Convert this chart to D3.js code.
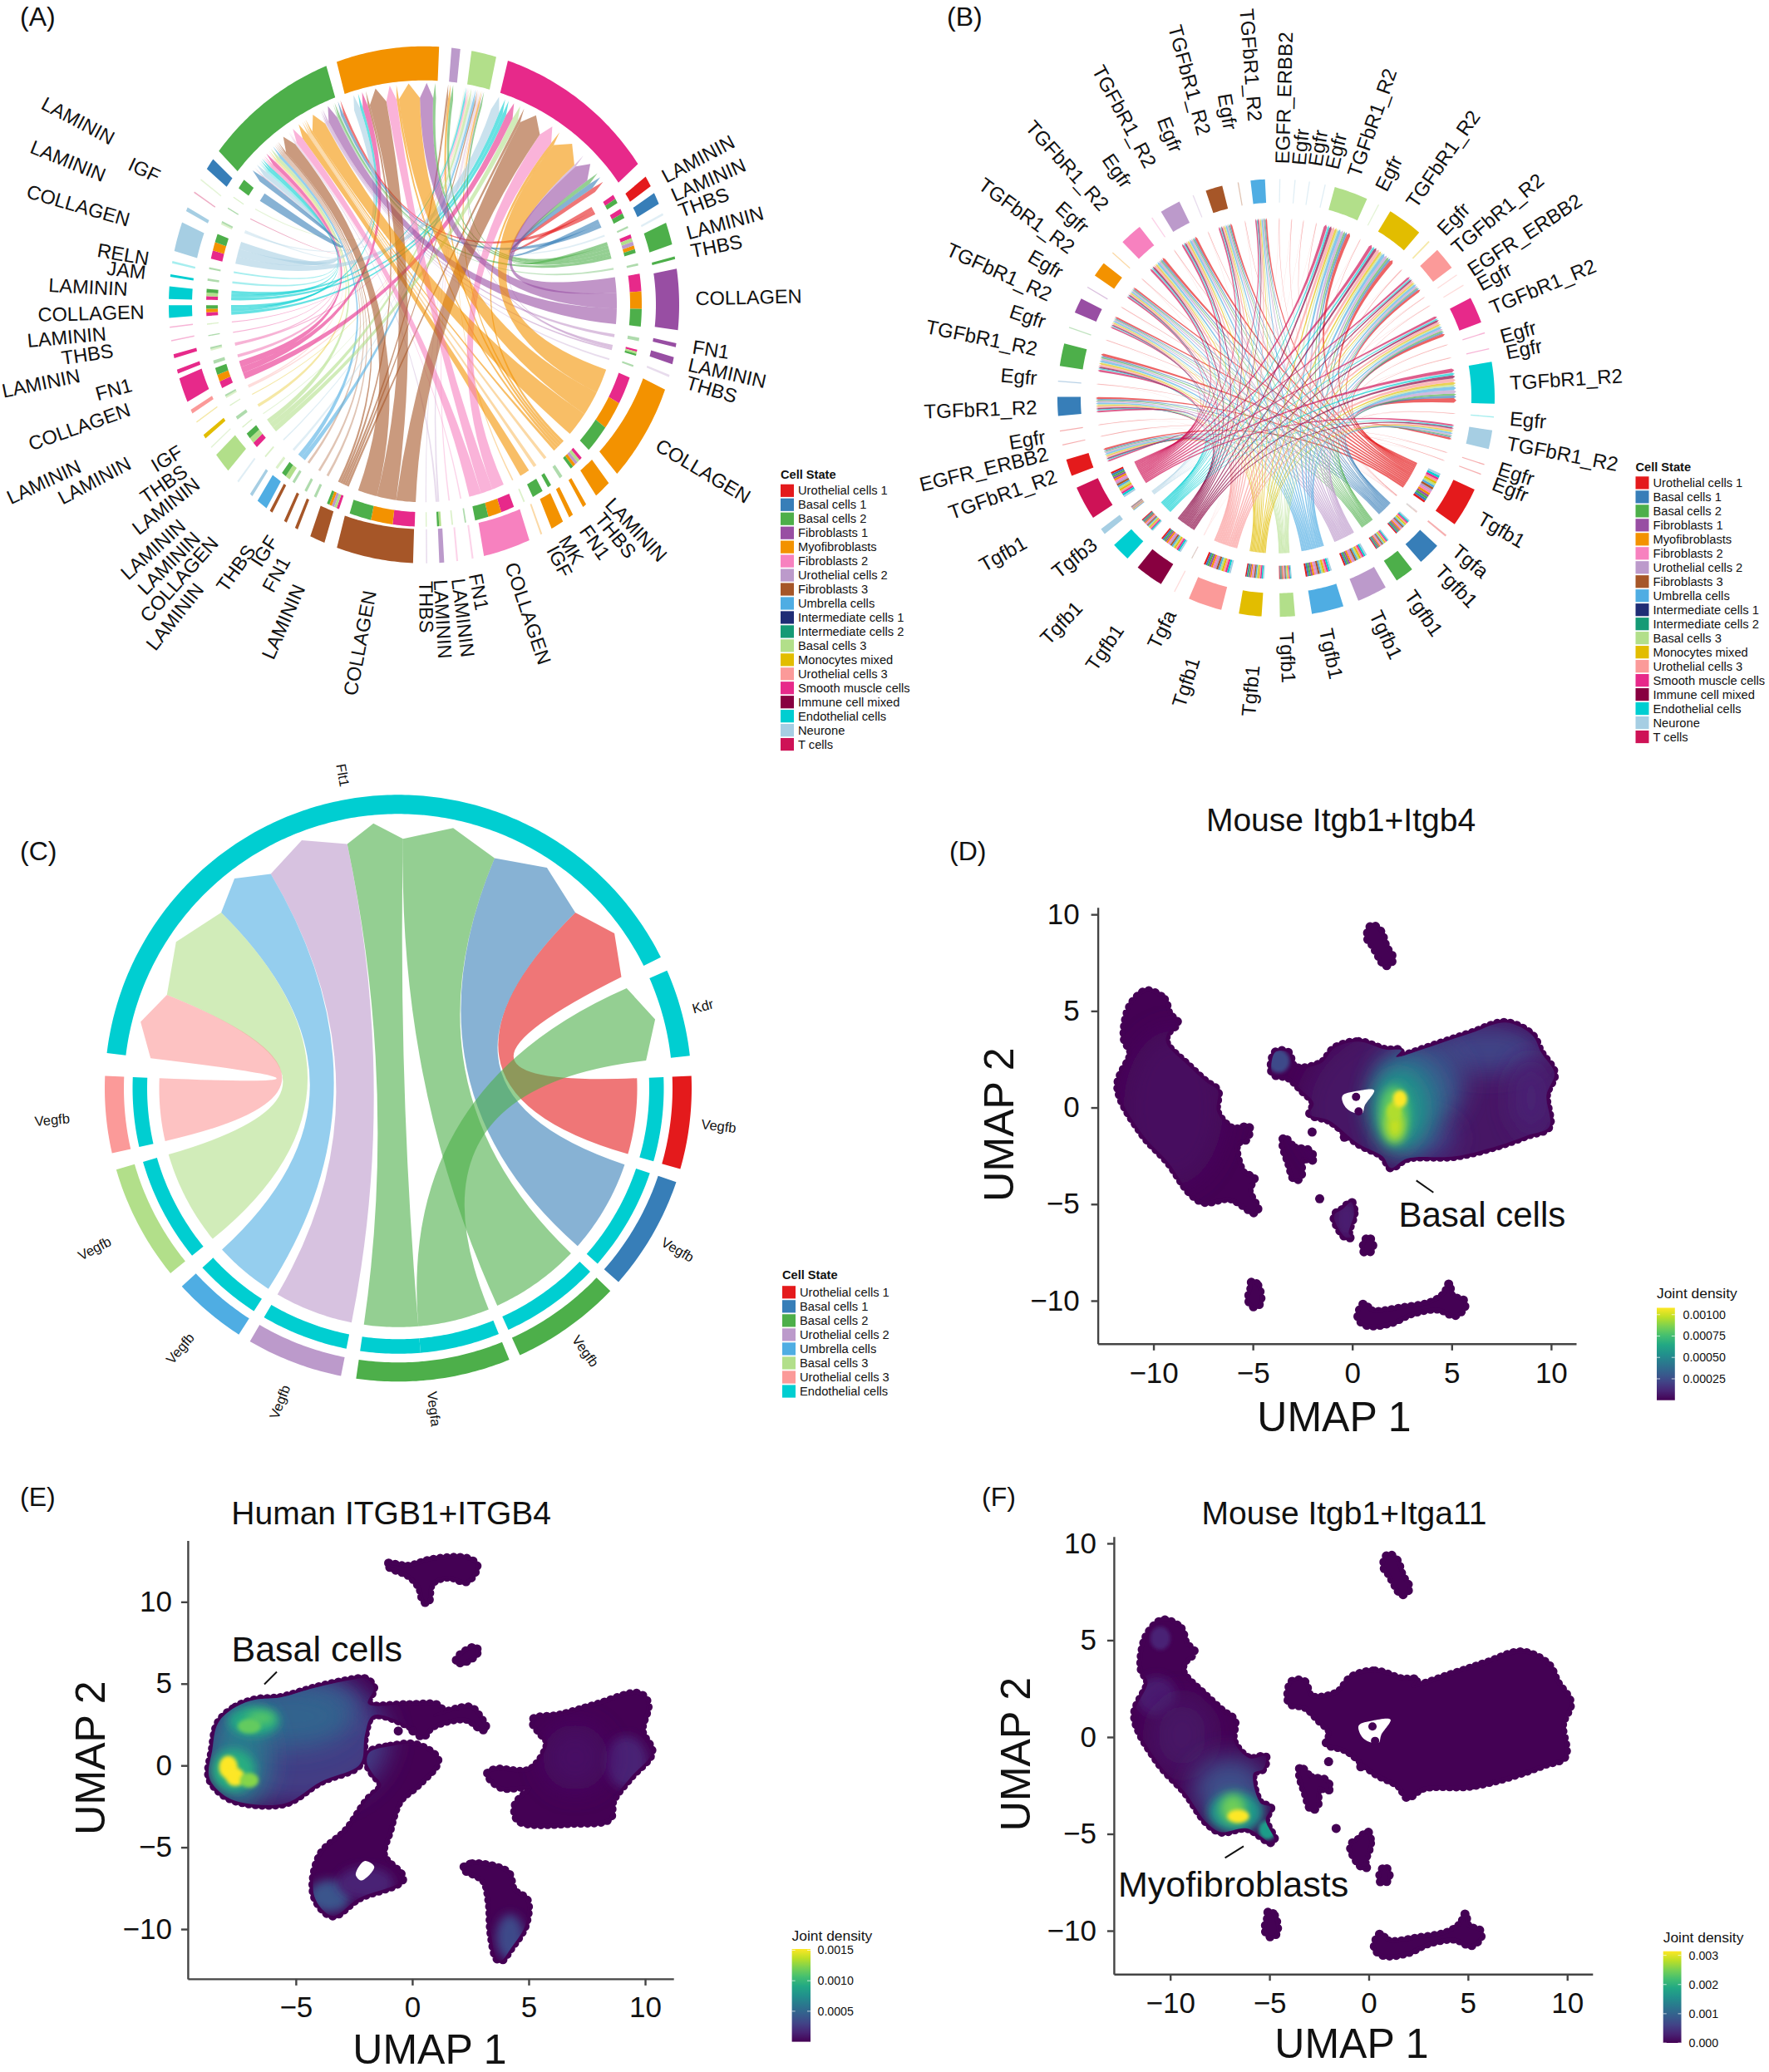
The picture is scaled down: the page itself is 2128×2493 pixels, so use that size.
<!DOCTYPE html>
<html><head><meta charset="utf-8">
<script src="https://cdn.jsdelivr.net/npm/d3@7"></script>
<style>html,body{margin:0;padding:0;background:#fff}svg{display:block}text{font-family:"Liberation Sans",Arial,sans-serif;fill:#111}</style>
</head><body><div id="chart"></div>
<script>
// ---------- legend categories ----------
const cellCodes=["U1","B1","B2","F1","MF","F2","U2","F3","UM","I1","I2","B3","MO","U3","SM","IM","EN","NE","TC"];
const cellNames=["Urothelial cells 1","Basal cells 1","Basal cells 2","Fibroblasts 1","Myofibroblasts","Fibroblasts 2","Urothelial cells 2","Fibroblasts 3","Umbrella cells","Intermediate cells 1","Intermediate cells 2","Basal cells 3","Monocytes mixed","Urothelial cells 3","Smooth muscle cells","Immune cell mixed","Endothelial cells","Neurone","T cells"];
const cellColors=["#E41A1C","#377EB8","#4DAF4A","#984EA3","#F39200","#F781BF","#BC9ACB","#A65628","#4FADE3","#1F2D75","#159A75","#B2DF8A","#E2BD00","#FB9A99","#E7298A","#880040","#00CED1","#A6CEE3","#CE1256"];
const C_legendCodes=["U1","B1","B2","U2","UM","B3","U3","EN"];

// ---------- panel A ----------
const A_mid=[-8.3,7.2,13.6,38.1,61.5,65.7,69.5,74,79.5,88.8,99,102.5,106,120,135.6,141,144.8,148.5,152.6,161,169,172.5,176,179.4,191.2,204.7,210,212.9,216.8,219.4,222.6,226.8,232.3,236.5,239.3,243,245.6,250.7,255,258.5,262,265,268.5,272.7,276.5,279.5,285.3,291.7,295.8,299,303,322];
const A_width=[23.4,2,5.7,37.8,2.4,2.6,.5,5,.6,13.7,.9,1.6,.5,21.7,4,.9,1,3,.4,10.8,.4,.4,1.1,.3,17.5,3.5,.7,.7,.7,2.6,.7,.4,4.4,.3,.9,.3,.9,5.5,.9,.9,.3,.3,2.8,2.8,.6,.5,6.6,.9,.3,.3,2.6,31];
const A_cell=["MF","U2","B3","SM","U1","B1","NE","B2","B2","F1","F1","F1","U2","MF","MF","MF","MF","MF","MF","F2","F2","F2","U2","U2","F3","F3","F3","F3","F3","UM","NE","NE","B3","B3","MO","MO","U3","SM","SM","SM","SM","SM","EN","EN","EN","EN","NE","NE","TC","B3","B1","B2"];
const A_partners=["","","","","SG","SG","G","SLMUG","G","SMG","G","SLG","G","SMG","SLUMG","G","G","G","L","SMG","G","L","LG","L","SMG","SLUMG","G","G","G","LG","L","L","SLG","L","G","L","LG","SMG","G","LG","G","L","SMG","SLG","G","G","SMG","LG","G","L","G",""];
const A_targetIndex={M:0,U:1,L:2,S:3,G:51};
const A_labelText=["LAMININ","LAMININ","THBS","LAMININ","THBS","COLLAGEN","FN1","LAMININ","THBS","COLLAGEN","LAMININ","THBS","FN1","MK","IGF","COLLAGEN","FN1","LAMININ","LAMININ","THBS","COLLAGEN","LAMININ","FN1","IGF","THBS","LAMININ","COLLAGEN","LAMININ","LAMININ","LAMININ","THBS","IGF","LAMININ","LAMININ","COLLAGEN","FN1","LAMININ","THBS","LAMININ","COLLAGEN","LAMININ","JAM","RELN","COLLAGEN","LAMININ","IGF","LAMININ"];
const A_labelAngle=[62,66.3,69.9,74.8,78.7,88.7,98.9,102.7,106.4,120.8,136.7,140.3,144.3,149,152.2,161.4,169.2,172.9,176.6,179.6,190.7,203.9,208.7,212.9,215.5,218.6,221.7,224.6,227.9,232,235.4,239.1,241.9,245,250.5,254.7,258.4,261.6,264.8,268.5,273,276.6,279.5,286,292,295.7,298];
const A_labelRadius=[1.055,1.055,1.058,1.06,1.06,1.057,1.059,1.056,1.066,1.058,1.05,1.066,1.068,1.056,1.067,1.061,1.066,1.074,1.072,1.075,1.133,1.196,1.125,1.079,1.159,1.4,1.225,1.259,1.267,1.12,1.129,1.103,1.3,1.478,1.216,1.18,1.368,1.223,1.242,1.089,1.155,1.09,1.086,1.193,1.34,1.145,1.371];

// ---------- panel B ----------
const B_mid=[355.2,1,5,8.8,13,20.1,28,36.2,44.4,50.5,55.8,59,66.3,72.7,77,86,95,101,107.7,110.4,120,129,135.5,144,153.9,166.3,177,186.8,199,207.7,215.5,225.3,232.4,241.3,251.4,257.6,261.3,267.8,274.4,281.4,288.8,295,300.4,306,311.6,318.4,325.4,331,337.7,343.5,350];
const B_width=[3.8,.3,.3,.3,.3,9,.3,9.4,.4,6,.3,.3,7,.3,.3,11,.3,5,.3,.3,10.5,.5,6,5,8,8.5,4,6,9,.3,7.5,5,1.6,9,4.5,.3,.3,5,.3,6,.3,4,.3,4,.3,6,.3,5.5,.3,4.5,.3];
const B_cell=["UM","NE","NE","NE","NE","B3","B3","MO","MO","U3","U3","U3","SM","SM","SM","EN","EN","NE","U1","U1","U1","U1","B1","B2","U2","UM","B3","MO","U3","U3","IM","EN","NE","TC","U1","U1","U1","B1","B1","B2","B2","F1","F1","MF","MF","F2","F2","U2","U2","F3","F3"];
const B_role=["R","E","E","E","E","R","E","R","E","R","E","E","R","E","E","R","E","R","E","E","b","a","b","b","b","b","b","b","b","a","b","b","b","b","R","E","E","R","E","R","E","R","E","R","E","R","E","R","E","R","E"];
const B_labelText=["TGFbR1_R2","EGFR_ERBB2","Egfr","Egfr","Egfr","TGFbR1_R2","Egfr","TGFbR1_R2","Egfr","TGFbR1_R2","EGFR_ERBB2","Egfr","TGFbR1_R2","Egfr","Egfr","TGFbR1_R2","Egfr","TGFbR1_R2","Egfr","Egfr","Tgfb1","Tgfa","Tgfb1","Tgfb1","Tgfb1","Tgfb1","Tgfb1","Tgfb1","Tgfb1","Tgfa","Tgfb1","Tgfb1","Tgfb3","Tgfb1","TGFbR1_R2","EGFR_ERBB2","Egfr","TGFbR1_R2","Egfr","TGFbR1_R2","Egfr","TGFbR1_R2","Egfr","TGFbR1_R2","Egfr","TGFbR1_R2","Egfr","TGFbR1_R2","Egfr","TGFbR1_R2","Egfr"];
const B_labelAngle=[355.7,1.5,5.5,9.5,13.6,19.2,26.6,34.9,44.7,50.2,56.7,60.9,67.3,74.7,78.8,86.3,95,101,107.5,111.3,120.3,130,136.2,145.5,155.1,167.8,177.4,185,197.6,206.3,214.5,223.7,231.6,240.3,250.6,256.3,260.5,267.8,274.8,281.6,288.2,294.5,300.2,306.2,311.6,318.1,325.1,331.7,338.1,344.8,350.4];
const B_labelRadius=[1.269,1.071,1.07,1.075,1.079,1.075,1.066,1.075,1.069,1.059,1.058,1.059,1.063,1.064,1.072,1.071,1.073,1.076,1.068,1.067,1.078,1.07,1.076,1.078,1.078,1.08,1.072,1.228,1.248,1.09,1.268,1.306,1.061,1.322,1.067,1.074,1.071,1.094,1.097,1.116,1.112,1.133,1.135,1.154,1.162,1.17,1.184,1.204,1.215,1.249,1.245];

// ---------- panel C ----------
const C_mid=[350.2,75,96.8,120,144.6,173,200.8,220.2,242.4,264.8];
const C_width=[146.6,17.3,18.4,22.7,21.8,30.5,19.1,14.6,23,15.2];
const C_cell=["EN","EN","U1","B1","B2","B2","U2","UM","B3","U3"];
const C_linkSource=[2,3,4,5,5,6,7,8,9];
const C_linkTarget=[0,0,0,0,1,0,0,0,0];
const C_linkValue=[18.4,22.7,21.8,13,17.3,19.1,14.6,23,15.2];
const C_labelText=["Flt1","Kdr","Vegfb","Vegfb","Vegfb","Vegfa","Vegfb","Vegfb","Vegfb","Vegfb"];
const C_labelAngle=[350,74.9,96.7,120,144.5,173.6,200.7,220,242.2,264.8];
const C_labelRadius=[1.083,1.075,1.10,1.10,1.10,1.10,1.143,1.157,1.17,1.184];

// ---------- UMAP outlines (mouse, panels D and F) ----------
const mouseFibro=[[-10.3,6.05],[-9.45,5.6],[-9.2,4.83],[-8.78,4.39],[-9.3,3.84],[-9.35,3.34],[-8.28,2.2],[-7.34,1.32],[-6.77,.88],[-6.8,-.22],[-6,-1.1],[-5.2,-.99],[-5.32,-1.65],[-5.8,-1.87],[-5.46,-3.4],[-4.94,-3.62],[-5.19,-4.28],[-4.75,-5.3],[-4.92,-5.45],[-6.13,-4.72],[-7.47,-4.9],[-8.18,-4.4],[-9.25,-2.85],[-10.6,-1.32],[-11.8,1.1],[-11.14,2.85],[-11.46,3.51],[-11.27,5.05],[-10.73,5.83]];
const mouseMain=[[-.89,3.08],[.32,3.41],[1.67,3.0],[2.47,2.97],[2.2,2.63],[4.35,3.3],[5.97,3.85],[7.72,4.4],[9.06,3.74],[9.5,2.85],[10.17,1.76],[9.77,.66],[9.9,-1.0],[8.82,-1.44],[7.31,-1.99],[5.16,-2.53],[2.74,-2.64],[1.94,-3.13],[1.53,-2.53],[.32,-1.88],[-1.16,-.67],[-2.13,-.34],[-1.94,.22],[-2.53,.88],[-3.21,1.54],[-4.01,1.76],[-3.88,2.86],[-3.23,2.86],[-2.9,2.1],[-1.56,2.31]];
const mouseTop=[[.99,9.45],[1.43,9.12],[1.7,8.34],[2.05,7.68],[1.67,7.34],[1.35,7.79],[.99,8.45],[.75,8.78],[.83,9.22]];
const mouseStripe=[[-3.44,-1.53],[-2.9,-2.08],[-2.23,-2.19],[-1.93,-2.63],[-2.06,-2.75],[-2.5,-2.63],[-2.6,-3.63],[-2.9,-3.74],[-3.21,-2.85],[-3.48,-1.98]];
const mouseLowMid=[[-.05,-4.89],[.09,-5.49],[-.18,-6.49],[-.05,-6.71],[-.35,-6.71],[-.92,-5.6],[-.48,-5.26]];
const mouseSmall=[[.81,-6.69],[1.03,-7.14],[.89,-7.47],[.59,-7.47],[.56,-7.14]];
const mouseLeftLow=[[-5.05,-8.99],[-4.75,-9.21],[-4.62,-10.1],[-4.92,-10.33],[-5.22,-9.99],[-5.09,-9.32]];
const mouseBottom=[[.59,-10.15],[.99,-10.53],[2.47,-10.37],[3.95,-10.09],[4.62,-9.65],[4.89,-9.1],[5.01,-9.76],[5.6,-9.98],[5.65,-10.33],[5.16,-10.77],[4.35,-10.44],[3,-10.66],[1.94,-11.15],[.73,-11.27],[.29,-10.88]];
const mouseDots=[[-2.02,-1.27],[-.4,-1.54],[-1.64,-4.72]];
const mouseHole=[[-.5,.6],[.2,.85],[1.1,.9],[.63,.11],[.5,-.3],[-.08,-.2],[-.4,.11]];
const mouseHoleDots=[[.19,.55],[.32,-.2]];
// ---------- UMAP outlines (human, panel E) ----------
const humanBasal=[[-8.34,2.59],[-7.59,3.56],[-6.69,4.03],[-5.68,4.15],[-4.18,4.75],[-2.68,5.22],[-2.0,5.29],[-1.65,4.73],[-1.9,3.78],[-.18,3.72],[1.1,3.68],[1.28,3.3],[.95,3.06],[2.48,3.56],[2.86,3.06],[3.18,2.21],[2.96,2.21],[2.33,2.83],[.83,2.35],[.45,1.74],[-.05,2.35],[-1.68,3.06],[-2.03,1.88],[-2.15,.33],[-2.43,-.16],[-3.93,-.99],[-5.43,-2.3],[-7.19,-2.3],[-8.09,-1.82],[-8.72,-.74],[-8.59,.93]];
const humanRight=[[5.21,2.85],[6.34,3.08],[7.84,3.68],[9.74,4.39],[10.12,3.78],[9.87,2.11],[10.29,.81],[9.37,-.74],[8.62,-2.16],[8.49,-3.25],[6.96,-3.53],[4.56,-3.37],[4.43,-2.4],[5.06,-1.35],[3.83,-1.35],[3.23,-.5],[3.58,-.24],[5.06,-.26],[5.81,1.4],[5.56,1.88],[5.18,2.59]];
const humanTop=[[-1.08,12.35],[-.18,12.18],[.83,12.58],[2.35,12.65],[2.78,12.21],[2.33,11.24],[1.58,11.52],[.85,11.14],[.68,9.93],[.48,10.05],[.3,10.9],[-.18,11.63],[-.95,12.09]];
const humanSmall=[[2.73,7.24],[2.78,6.86],[2.33,6.37],[1.88,6.3],[2.05,6.75]];
const humanBody=[[-1.83,.81],[-.93,1.18],[.2,1.25],[1.1,.33],[.23,-1.21],[-.53,-2.16],[-.98,-4.06],[-1.23,-5.49],[-.4,-6.93],[-2.3,-8.12],[-3.43,-9.19],[-4.21,-7.98],[-3.96,-5.49],[-2.83,-3.97],[-1.95,-2.16],[-1.33,-1.21],[-1.7,-.5],[-1.95,.21]];
const humanLower=[[2.18,-6.3],[2.58,-6.01],[4.11,-6.54],[4.36,-7.62],[4.93,-8.22],[4.86,-9.76],[4.23,-11.19],[3.83,-11.92],[3.63,-11.8],[3.38,-10.24],[3.3,-8.34],[3.06,-7.03]];
const humanDots=[[-.6,2.11],[.03,2.11]];
const humanHole=[[-2.05,-5.84],[-1.63,-6.2],[-2.18,-7.03],[-2.43,-6.67]];
// ---------- density peaks: x, y, x-spread, y-spread, fraction of colour bar ----------
const D_density=[[4.5,0,7,5,.05],[-3.7,2.4,.55,.6,.22],[6.8,3,2.8,1.2,.2],[9,.5,1,2,.1],[3.4,1.2,2.2,2.2,.26],[3.4,-1.6,1.8,1,.18],[2.7,.1,1.7,2.3,.4],[2.3,-.2,1.15,2,.56],[2.1,-.4,.72,1.5,.76],[2.15,-.95,.42,.72,.92],[2.1,-.2,.38,.5,.88],[2.4,.45,.36,.45,1],[-.3,-5.8,.6,1,.08],[-9,0,2.5,4,.03]];
const E_density=[[-5,1.5,4,4,.18],[-3.7,3.8,1.4,1,.26],[-5.2,3,2.6,1.9,.32],[-7.4,.5,1.3,3.2,.4],[-6.8,2.7,1.1,.9,.6],[-6.5,2.9,.6,.4,.74],[-7,2.4,.5,.45,.76],[-7.7,-.3,.95,1.3,.62],[-7.9,-.1,.4,.7,1],[-7.6,-.7,.4,.55,1],[-7,-.9,.4,.45,.82],[-3.55,-8,.9,1,.26],[-2,-7.2,1.2,1,.1],[4.2,-10.5,.6,1.4,.22],[9.2,.2,.9,1.6,.1],[7,.5,1.4,2,.04]];
const F_density=[[-10.5,5.1,.5,.6,.1],[-10.7,2.1,1,1,.08],[-9.4,.1,1.6,2,.05],[-7,-2.7,1.9,1.7,.24],[-6.7,-3.9,1.4,1.05,.52],[-5.1,-4.8,.45,.5,.55],[-6.84,-3.7,.65,.75,.78],[-6.57,-4.09,.55,.35,1]];
// ---------- colour bar ticks ----------
const D_barTicks=[.00025,.0005,.00075,.001];
const E_barTicks=[.0005,.001,.0015];
const F_barTicks=[0,.001,.002,.003];

// ---------- helpers ----------
const svg=d3.select("#chart").append("svg").attr("width",2128).attr("height",2493).attr("viewBox","0 0 2128 2493");
svg.append("rect").attr("width",2128).attr("height",2493).attr("fill","#fff");
const defs=svg.append("defs");
const colorOf=Object.fromEntries(cellCodes.map((c,i)=>[c,cellColors[i]]));
const toRad=d3.scaleLinear().domain([0,360]).range([0,2*Math.PI]);
const rel=(a,b)=>(((b-a)%360)+360)%360;

function chord(cfg){
  const g=svg.append("g");
  const pt=(a,r)=>[cfg.cx+r[0]*Math.sin(toRad(a)),cfg.cy-r[1]*Math.cos(toRad(a))];
  const arcPts=(a0,a1,r)=>{const n=Math.max(2,Math.ceil(Math.abs(a1-a0)/.7));return d3.range(n+1).map(i=>pt(a0+(a1-a0)*i/n,r));};
  const band=(a0,a1,ri,ro)=>{const p=arcPts(a0,a1,ro).concat(arcPts(a1,a0,ri));return "M"+p.map(d=>d.join(",")).join("L")+"Z";};
  const sectors=cfg.mid.map((m,i)=>({i,mid:m,w:cfg.width[i],color:colorOf[cfg.cell[i]]}));
  sectors.forEach(s=>{s.a0=s.mid-s.w/2;s.a1=s.mid+s.w/2;});
  const links=cfg.links.map(l=>({...l}));
  sectors.forEach(s=>{
    const out=links.filter(l=>l.s===s.i).sort((a,b)=>rel(s.mid,sectors[b.t].mid)-rel(s.mid,sectors[a.t].mid));
    const tot=d3.sum(out,l=>l.v);let c=s.a0;
    out.forEach(l=>{l.s0=c;c+=s.w*l.v/tot;l.s1=c;});
    const inc=links.filter(l=>l.t===s.i).sort((a,b)=>rel(s.mid,sectors[b.s].mid)-rel(s.mid,sectors[a.s].mid));
    const tot2=d3.sum(inc,l=>l.v);c=s.a0;
    inc.forEach(l=>{l.t0=c;c+=s.w*l.v/tot2;l.t1=c;});
  });
  const drawn=cfg.sortLinks?links.slice().sort((a,b)=>a.v-b.v):links;
  g.append("g").selectAll("path").data(drawn).join("path")
    .attr("fill",l=>sectors[l.s].color)
    .attr("fill-opacity",l=>sectors[l.s].w<cfg.thinBelow?cfg.thinOpacity:cfg.linkOpacity)
    .attr("d",l=>{
      const p=d3.path();
      const src=arcPts(l.s0,l.s1,cfg.linkEnd);
      p.moveTo(...src[0]);src.slice(1).forEach(q=>p.lineTo(...q));
      p.quadraticCurveTo(cfg.cx,cfg.cy,...pt(l.t0,cfg.shoulder));
      p.lineTo(...pt((l.t0+l.t1)/2,cfg.tip));
      p.lineTo(...pt(l.t1,cfg.shoulder));
      p.quadraticCurveTo(cfg.cx,cfg.cy,...src[0]);
      p.closePath();return p.toString();
    });
  g.append("g").selectAll("path").data(links).join("path")
    .attr("fill",l=>sectors[l.t].color).attr("fill-opacity",l=>sectors[l.s].w<1?.45:1)
    .attr("d",l=>band(l.s0,l.s1,cfg.ring2[0],cfg.ring2[1]));
  g.append("g").selectAll("path").data(sectors).join("path")
    .attr("fill",d=>d.color).attr("fill-opacity",d=>d.w<.6?.35:1)
    .attr("d",d=>band(d.a0,d.a1,cfg.outer[0],cfg.outer[1]));
  g.append("g").selectAll("text").data(cfg.labels).join("text")
    .attr("font-size",cfg.labelSize).attr("dominant-baseline","central")
    .attr("text-anchor",d=>cfg.centered?"middle":(d.a<180?"start":"end"))
    .attr("transform",d=>{
      const p=[cfg.cx+cfg.R*d.r*Math.sin(toRad(d.a)),cfg.cy-cfg.R*d.r*Math.cos(toRad(d.a))];
      const rot=d.a<180?d.a-90:d.a+90;
      return `translate(${p[0]},${p[1]}) rotate(${rot})`;
    }).text(d=>d.t);
}
function legend(x,titleY,firstY,step,codes){
  const g=svg.append("g");
  g.append("text").attr("x",x).attr("y",titleY).attr("dominant-baseline","central").attr("font-size",14.6).attr("font-weight","bold").text("Cell State");
  const row=g.selectAll("g").data(codes).join("g").attr("transform",(d,i)=>`translate(${x},${firstY+i*step})`);
  row.append("rect").attr("y",-7.6).attr("width",16).attr("height",15.2).attr("fill",d=>colorOf[d]);
  row.append("text").attr("x",21).attr("dominant-baseline","central").attr("font-size",14.7).text(d=>cellNames[cellCodes.indexOf(d)]);
}
const panelLabel=(t,x,y)=>svg.append("text").attr("x",x).attr("y",y).attr("dominant-baseline","central").attr("font-size",32).text(t);
const zipLabels=(t,a,r)=>t.map((s,i)=>({t:s,a:a[i],r:r[i]}));

// ---------- panel A ----------
const A_links=[];
A_partners.forEach((str,i)=>{[...str].forEach(c=>A_links.push({s:i,t:A_targetIndex[c],v:A_width[i]/str.length}));});
chord({cx:510,cy:366.7,R:309,mid:A_mid,width:A_width,cell:A_cell,links:A_links,sortLinks:true,
  outer:[[279,270],[307,311]],ring2:[[248,249.5],[262,267]],linkEnd:[232,237.6],shoulder:[245.5,249],tip:[259,267],
  linkOpacity:.6,thinBelow:2,thinOpacity:.35,labelSize:23.5,labels:zipLabels(A_labelText,A_labelAngle,A_labelRadius)});
legend(939,571,590.3,16.96,cellCodes);
panelLabel("(A)",24,20);

// ---------- panel B ----------
const B_links=[];
B_role.forEach((r,i)=>{
  const partner=r==="b"?"R":r==="a"?"E":null; if(!partner) return;
  const tg=B_role.map((x,j)=>x===partner?j:-1).filter(j=>j>=0);
  tg.forEach(j=>B_links.push({s:i,t:j,v:B_width[i]/tg.length}));
});
chord({cx:1535,cy:478.8,R:263,mid:B_mid,width:B_width,cell:B_cell,links:B_links,
  outer:[[235,235],[263,263.4]],ring2:[[202,202],[218,218]],linkEnd:[187,187],shoulder:[214,214],tip:[217,217],
  linkOpacity:.68,thinBelow:1,thinOpacity:.35,labelSize:24,labels:zipLabels(B_labelText,B_labelAngle,B_labelRadius)});
legend(1967.5,561.5,580.9,16.98,cellCodes);
panelLabel("(B)",1139,20);

// ---------- panel C ----------
const C_links=C_linkSource.map((s,i)=>({s,t:C_linkTarget[i],v:C_linkValue[i]}));
chord({cx:479,cy:1309.3,R:353,mid:C_mid,width:C_width,cell:C_cell,links:C_links,
  outer:[[330,330],[353,353]],ring2:[[302,302],[319.5,319.5]],linkEnd:[287.5,287.5],shoulder:[300,300],tip:[320,320],
  linkOpacity:.6,thinBelow:0,thinOpacity:.6,labelSize:16.5,centered:true,labels:zipLabels(C_labelText,C_labelAngle,C_labelRadius)});
legend(941,1534.3,1554.8,17.03,C_legendCodes);
panelLabel("(C)",24,1023.6);

// ---------- UMAP panels ----------
const viridis=d3.scaleSequential(d3.interpolateViridis).domain([0,1]);
let uid=0;
function umap(c){
  const id=++uid;
  const x=d3.scaleLinear().domain(c.xd).range(c.xr), y=d3.scaleLinear().domain(c.yd).range(c.yr);
  const g=svg.append("g");
  const line=d3.line().x(d=>x(d[0])).y(d=>y(d[1])).curve(d3.curveCatmullRomClosed.alpha(.5));
  const base=viridis(0);
  const clip=defs.append("clipPath").attr("id","cl"+id);
  c.blobs.forEach(b=>clip.append("path").attr("d",line(b)));
  [[2.2,"s"],[6,"m"],[15,"l"]].forEach(([sd,k])=>defs.append("filter").attr("id",`bl${id}${k}`).attr("x","-80%").attr("y","-80%").attr("width","260%").attr("height","260%")
    .append("feGaussianBlur").attr("stdDeviation",sd));
  g.selectAll("path.blob").data(c.blobs).join("path").attr("class","blob").attr("d",line)
    .attr("fill",base).attr("stroke",base).attr("stroke-width",11).attr("stroke-linecap","round").attr("stroke-dasharray","0 8");
  g.selectAll("path.blobin").data(c.blobs).join("path").attr("class","blobin").attr("d",line)
    .attr("fill",base).attr("stroke",base).attr("stroke-width",3).attr("stroke-linejoin","round");
  g.selectAll("circle.edge").data(c.dots).join("circle").attr("class","edge")
    .attr("cx",d=>x(d[0])).attr("cy",d=>y(d[1])).attr("r",5.5).attr("fill",base);
  const h=g.append("g").attr("clip-path",`url(#cl${id})`);
  const sizeOf=d=>Math.max(Math.abs(x(d[2])-x(0)),Math.abs(y(d[3])-y(0)));
  h.selectAll("ellipse").data(c.density).join("ellipse")
    .attr("cx",d=>x(d[0])).attr("cy",d=>y(d[1]))
    .attr("rx",d=>Math.abs(x(d[2])-x(0))).attr("ry",d=>Math.abs(y(d[3])-y(0)))
    .attr("fill",d=>viridis(d[4]))
    .attr("filter",d=>`url(#bl${id}${sizeOf(d)>35?"l":sizeOf(d)>16?"m":"s"})`);
  c.holes.forEach(b=>g.append("path").attr("d",line(b)).attr("fill","#fff"));
  g.selectAll("circle.hd").data(c.holeDots).join("circle").attr("class","hd")
    .attr("cx",d=>x(d[0])).attr("cy",d=>y(d[1])).attr("r",5).attr("fill",base);
  // axes
  const ax=g.append("g").attr("transform",`translate(0,${c.yr[0]})`).call(d3.axisBottom(x).tickValues(c.xt).tickSize(8).tickSizeOuter(0).tickPadding(c.px));
  const ay=g.append("g").attr("transform",`translate(${c.xr[0]},0)`).call(d3.axisLeft(y).tickValues(c.yt).tickSize(8).tickSizeOuter(0).tickPadding(c.py));
  [ax,ay].forEach(a=>{a.selectAll("text").attr("font-size",35).style("font-family",'"Liberation Sans"').attr("fill","#111");a.selectAll("path,line").attr("stroke","#444").attr("stroke-width",2.4);});
  g.append("text").attr("x",c.xTitle[0]).attr("y",c.xTitle[1]).attr("text-anchor","middle").attr("dominant-baseline","central").attr("font-size",50).text("UMAP 1");
  g.append("text").attr("transform",`translate(${c.yTitle[0]},${c.yTitle[1]}) rotate(-90)`).attr("text-anchor","middle").attr("dominant-baseline","central").attr("font-size",50).text("UMAP 2");
  g.append("text").attr("x",c.title[1]).attr("y",c.title[2]).attr("text-anchor","middle").attr("dominant-baseline","central").attr("font-size",c.title[3]).text(c.title[0]);
  g.append("text").attr("x",c.note[1]).attr("y",c.note[2]).attr("dominant-baseline","central").attr("font-size",c.note[3]).text(c.note[0]);
  g.append("line").attr("x1",c.noteLine[0]).attr("y1",c.noteLine[1]).attr("x2",c.noteLine[2]).attr("y2",c.noteLine[3]).attr("stroke","#111").attr("stroke-width",2);
  // colour bar
  const b=c.bar, gid="vg"+id;
  const grad=defs.append("linearGradient").attr("id",gid).attr("x1",0).attr("y1",1).attr("x2",0).attr("y2",0);
  d3.range(0,1.001,.1).forEach(t=>grad.append("stop").attr("offset",t).attr("stop-color",viridis(t)));
  const by=d3.scaleLinear().domain(b.domain).range([b.y1,b.y0]);
  g.append("rect").attr("x",b.x0).attr("y",b.y0).attr("width",b.x1-b.x0).attr("height",b.y1-b.y0).attr("fill",`url(#${gid})`);
  g.append("text").attr("x",b.x0).attr("y",b.titleY).attr("dominant-baseline","central").attr("font-size",17.4).text("Joint density");
  const tk=g.append("g").selectAll("g").data(b.ticks).join("g").attr("transform",d=>`translate(0,${by(d)})`);
  tk.append("line").attr("x1",b.x0).attr("x2",b.x0+4).attr("stroke","#fff").attr("stroke-opacity",.7);
  tk.append("line").attr("x1",b.x1-4).attr("x2",b.x1).attr("stroke","#fff").attr("stroke-opacity",.7);
  tk.append("text").attr("x",b.labelX).attr("dominant-baseline","central").attr("font-size",14.2).text(d=>d3.format(b.fmt)(d));
}
const mouseBlobs=[mouseFibro,mouseMain,mouseTop,mouseStripe,mouseLowMid,mouseSmall,mouseLeftLow,mouseBottom];
umap({xd:[-12.8,11.26],xr:[1320.6,1896],yd:[-12.23,10.36],yr:[1616.8,1091.8],xt:[-10,-5,0,5,10],yt:[-10,-5,0,5,10],px:14,py:14,
  blobs:mouseBlobs,dots:mouseDots,holes:[mouseHole],holeDots:mouseHoleDots,density:D_density,
  xTitle:[1605,1705],yTitle:[1202,1353],title:["Mouse Itgb1+Itgb4",1613,986.7,39],note:["Basal cells",1682.5,1461.7,42],noteLine:[1703.7,1420.4,1724.3,1434.7],
  bar:{x0:1993,x1:2014.8,y0:1573.5,y1:1684.7,domain:[0,.00108],ticks:D_barTicks,fmt:".5f",labelX:2024.5,titleY:1556}});
umap({xd:[-9.64,11.22],xr:[225.9,810.2],yd:[-13.04,13.75],yr:[2380.9,1853.5],xt:[-5,0,5,10],yt:[-10,-5,0,5,10],px:13,py:11,
  blobs:[humanBasal,humanRight,humanTop,humanSmall,humanBody,humanLower],dots:humanDots,holes:[humanHole],holeDots:[],density:E_density,
  xTitle:[517,2466],yTitle:[108.7,2115],title:["Human ITGB1+ITGB4",470.7,1820.8,39],note:["Basal cells",278.5,1984.4,43],noteLine:[333,2011.5,318,2026.5],
  bar:{x0:952.6,x1:975,y0:2345,y1:2456.6,domain:[0,.00152],ticks:E_barTicks,fmt:".4f",labelX:983.5,titleY:2329}});
umap({xd:[-12.84,11.28],xr:[1339.9,1915.8],yd:[-12.24,10.35],yr:[2375.2,1848.8],xt:[-10,-5,0,5,10],yt:[-10,-5,0,5,10],px:13.5,py:13,
  blobs:mouseBlobs,dots:mouseDots,holes:[mouseHole],holeDots:mouseHoleDots,density:F_density,
  xTitle:[1626,2459],yTitle:[1221.6,2110.6],title:["Mouse Itgb1+Itga11",1617,1820.8,39],note:["Myofibroblasts",1345,2267,43],noteLine:[1496,2221.4,1473.6,2235.4],
  bar:{x0:2000.7,x1:2022.5,y0:2347.7,y1:2458,domain:[0,.00314],ticks:F_barTicks,fmt:".3f",labelX:2031.6,titleY:2331}});
panelLabel("(D)",1142,1024);
panelLabel("(E)",24,1801);
panelLabel("(F)",1181,1801);
</script></body></html>
